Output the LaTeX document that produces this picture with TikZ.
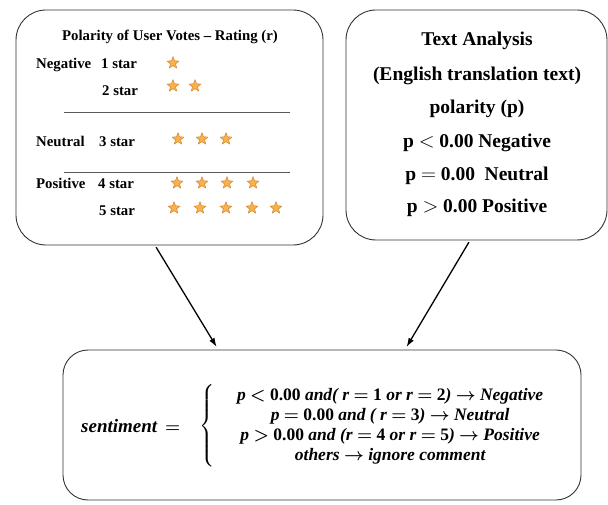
\documentclass[tikz,border=0pt]{standalone}
\usepackage{amsmath}
\usepackage{fontspec}
\setmainfont{Liberation Serif}
\usetikzlibrary{arrows.meta,positioning,shapes.geometric,calc}

\definecolor{starfill}{RGB}{247,178,76}
\definecolor{staredge}{RGB}{205,118,32}

\begin{document}
\begin{tikzpicture}[
    x=1pt, y=-1pt,
    panel/.style={draw=black!80, line width=0.9pt, rounded corners=30pt, inner sep=0pt},
    votetext/.style={anchor=base west, inner sep=0pt, font=\fontsize{14.8}{16}\selectfont\bfseries},
    ratestar/.style={star, star points=5, star point ratio=2.3, minimum size=12.5pt, inner sep=0pt, draw=staredge, line width=0.4pt, fill=starfill},
    sepline/.style={draw=black!65, line width=0.8pt},
    polline/.style={anchor=base, inner sep=0pt, font=\fontsize{19.5}{21}\selectfont\bfseries},
    ruletext/.style={inner sep=0pt, font=\fontsize{#1}{16}\selectfont\bfseries\itshape\boldmath},
    link/.style={-{Latex[length=9pt, width=6pt]}, line width=1.3pt, shorten <=2pt, shorten >=3pt}
]
\useasboundingbox (0,0) rectangle (608,505);

% boxes
\node[panel, minimum width=307pt, minimum height=235pt] (votes) at (169.5,127.5) {};
\node[panel, minimum width=261pt, minimum height=230pt] (analysis) at (476.5,125) {};
\node[panel, rounded corners=25pt, minimum width=518pt, minimum height=150pt] (sentiment) at (322,425) {};

% user votes
\node[votetext, anchor=base] (votetitle) at (170,41) {Polarity of User Votes -- Rating (r)};
\node[votetext] (neg) at (36,69) {Negative};
\node[votetext] (one) at (101,69) {1 star};
\node[votetext] (two) at (102,96) {2 star};
\node[votetext] (neu) at (36,147) {Neutral};
\node[votetext] (three) at (99,147) {3 star};
\node[votetext] (pos) at (36,189) {Positive};
\node[votetext] (four) at (98,189) {4 star};
\node[votetext] (five) at (99,216) {5 star};
\draw[sepline] (64,112) -- (290,112);
\draw[sepline] (64,172) -- (290,172);

% stars
\foreach \sx [count=\k] in {173} \node[ratestar] (stara\k) at (\sx,63) {};
\foreach \sx [count=\k] in {173,195} \node[ratestar] (starb\k) at (\sx,86) {};
\foreach \sx [count=\k] in {178,202,226} \node[ratestar] (starc\k) at (\sx,139) {};
\foreach \sx [count=\k] in {177,202,227,253} \node[ratestar] (stard\k) at (\sx,183) {};
\foreach \sx [count=\k] in {174,200,226,252,276} \node[ratestar] (stare\k) at (\sx,208) {};

% text analysis
\node[polline] (ta) at (477,45.5) {Text Analysis};
\node[polline] (eng) at (477,80.5) {(English translation text)};
\node[polline] (pol) at (477,113.5) {polarity (p)};
\node[polline] (pneg) at (477,147.5) {p $<$ 0.00 Negative};
\node[polline] (pneu) at (477,180.5) {p $=$ 0.00~ Neutral};
\node[polline] (ppos) at (477,212.5) {p $>$ 0.00 Positive};

% combined rule
\node[ruletext=19, anchor=west] (sentword) at (81,426) {sentiment\,\ $=$};
\node[ruletext=17.5, anchor=west] (cases) at (199,426)
  {\renewcommand{\arraystretch}{1.25}%
   $\left\{\quad\begin{array}{c}
     \text{p $<$ \textup{0.00} and( r $=$ \textup{1} or r $=$ \textup{2}) $\rightarrow$ Negative}\\
     \text{p $=$ \textup{0.00} and ( r $=$ \textup{3}) $\rightarrow$ Neutral}\\
     \text{p $>$ \textup{0.00} and (r $=$ \textup{4} or r $=$ \textup{5}) $\rightarrow$ Positive}\\
     \text{others $\rightarrow$ ignore comment}
   \end{array}\right.$};

\draw[link] ($(votes.south west)!0.453!(votes.south east)$) -- ($(sentiment.north west)!0.30!(sentiment.north east)$);
\draw[link] ($(analysis.south west)!0.475!(analysis.south east)$) -- ($(sentiment.north west)!0.66!(sentiment.north east)$);
\end{tikzpicture}
\end{document}
